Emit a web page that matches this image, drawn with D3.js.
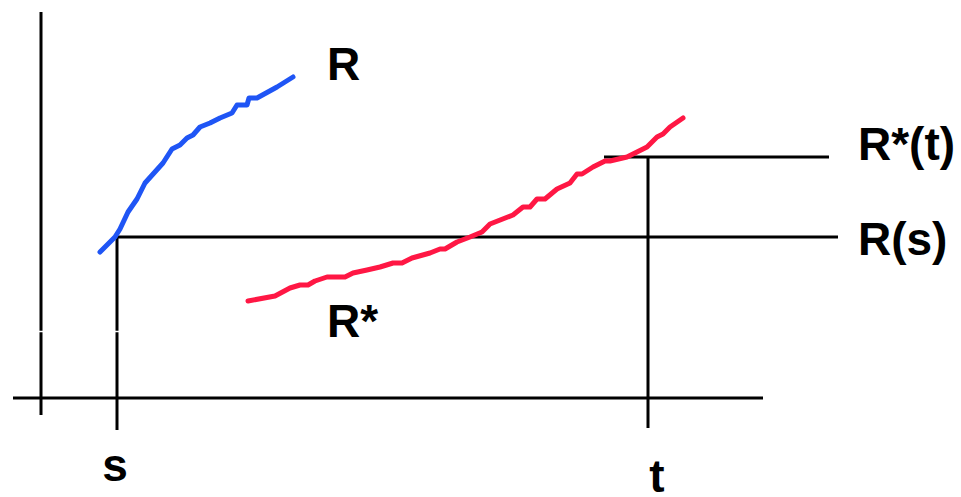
<!DOCTYPE html>
<html>
<head>
<meta charset="utf-8">
<script src="https://cdn.jsdelivr.net/npm/d3@7"></script>
<style>
  body { margin: 0; background: #fff; }
  svg { display: block; }
</style>
</head>
<body>
<script>
// values, in units from the axes origin
let rX = [59, 74, 79, 87, 96, 104, 113, 122, 131, 139, 146, 152, 159, 169, 179, 191, 196, 206, 208, 216, 236, 252];
let rY = [146, 161, 169, 186, 199, 215, 225, 235, 249, 253, 260, 263, 271, 275, 280, 285, 293, 293, 300, 300, 311, 321];

let rStarX = [207, 234, 249, 259, 267, 274, 286, 304, 312, 326, 339, 352, 361, 371, 389, 399, 404, 416, 429, 441,
              449, 472, 482, 489, 496, 504, 516, 529, 536, 541, 552, 564, 569, 586, 606, 616, 622, 629, 642];
let rStarY = [97, 102, 110, 113, 113, 117, 121, 121, 125, 128, 131, 135, 135, 140, 145, 149, 149, 156, 161, 166,
              174, 183, 191, 191, 199, 199, 209, 215, 224, 224, 231, 237, 237, 241, 251, 261, 264, 271, 280];

let sVal = 76, tVal = 607;
let rsVal = 161, rtVal = 241;

let tickLabels = ['s', 't'];
let levelLabels = ['R*(t)', 'R(s)'];
let curveLabels = ['R', 'R*'];


let width = 961, height = 497;

let svg = d3.select('body').append('svg')
    .attr('width', width)
    .attr('height', height);

// scales
let x = d3.scaleLinear().domain([0, 720]).range([41, 761]);
let y = d3.scaleLinear().domain([0, 386]).range([398, 12]);

let line = d3.line()
    .x(d => x(d[0]))
    .y(d => y(d[1]));

let rData = d3.zip(rX, rY);
let rStarData = d3.zip(rStarX, rStarY);

let font = '"Liberation Sans", Arial, sans-serif';

// axes
svg.append('line')
    .attr('x1', x(-28)).attr('x2', x(722))
    .attr('y1', y(0)).attr('y2', y(0))
    .attr('stroke', 'black').attr('stroke-width', 3);

svg.append('line')
    .attr('x1', x(0)).attr('x2', x(0))
    .attr('y1', y(386)).attr('y2', y(-17))
    .attr('stroke', 'black').attr('stroke-width', 3);

// guide lines for s and t
svg.append('line')
    .attr('x1', x(sVal)).attr('x2', x(sVal))
    .attr('y1', y(rsVal)).attr('y2', y(-32))
    .attr('stroke', 'black').attr('stroke-width', 3);

svg.append('line')
    .attr('x1', x(tVal)).attr('x2', x(tVal))
    .attr('y1', y(rtVal)).attr('y2', y(-30))
    .attr('stroke', 'black').attr('stroke-width', 3);

svg.append('line')
    .attr('x1', x(sVal)).attr('x2', x(797))
    .attr('y1', y(rsVal)).attr('y2', y(rsVal))
    .attr('stroke', 'black').attr('stroke-width', 3);

svg.append('line')
    .attr('x1', x(tVal - 44)).attr('x2', x(788))
    .attr('y1', y(rtVal)).attr('y2', y(rtVal))
    .attr('stroke', 'black').attr('stroke-width', 3);

// small white break on the left verticals, as in the slide
svg.append('line')
    .attr('x1', x(-10)).attr('x2', x(90))
    .attr('y1', y(66.5)).attr('y2', y(66.5))
    .attr('stroke', 'white').attr('stroke-width', 1.5);

// curves
svg.append('path')
    .datum(rData)
    .attr('d', line)
    .attr('fill', 'none')
    .attr('stroke', '#1f55f5')
    .attr('stroke-width', 5)
    .attr('stroke-linecap', 'round')
    .attr('stroke-linejoin', 'round');

svg.append('path')
    .datum(rStarData)
    .attr('d', line)
    .attr('fill', 'none')
    .attr('stroke', '#ff1744')
    .attr('stroke-width', 5)
    .attr('stroke-linecap', 'round')
    .attr('stroke-linejoin', 'round');

// labels
let label = (txt, px, py, anchor) => svg.append('text')
    .attr('x', px).attr('y', py)
    .attr('text-anchor', anchor)
    .attr('font-family', font)
    .attr('font-weight', 'bold')
    .attr('font-size', '46px')
    .attr('fill', 'black')
    .text(txt);

let rEnd = rData[rData.length - 1];
let rStarStart = rStarData[0];
label(curveLabels[0], x(rEnd[0]) + 34, y(rEnd[1]) + 3, 'start');
label(curveLabels[1], x(rStarStart[0]) + 79, y(rStarStart[1]) + 36, 'start');

label(levelLabels[0], 858, y(rtVal) + 3, 'start');
label(levelLabels[1], 858, y(rsVal) + 18, 'start');

label(tickLabels[0], x(sVal) - 2, 481, 'middle');
label(tickLabels[1], x(tVal) + 9, 492, 'middle');
</script>
</body>
</html>
